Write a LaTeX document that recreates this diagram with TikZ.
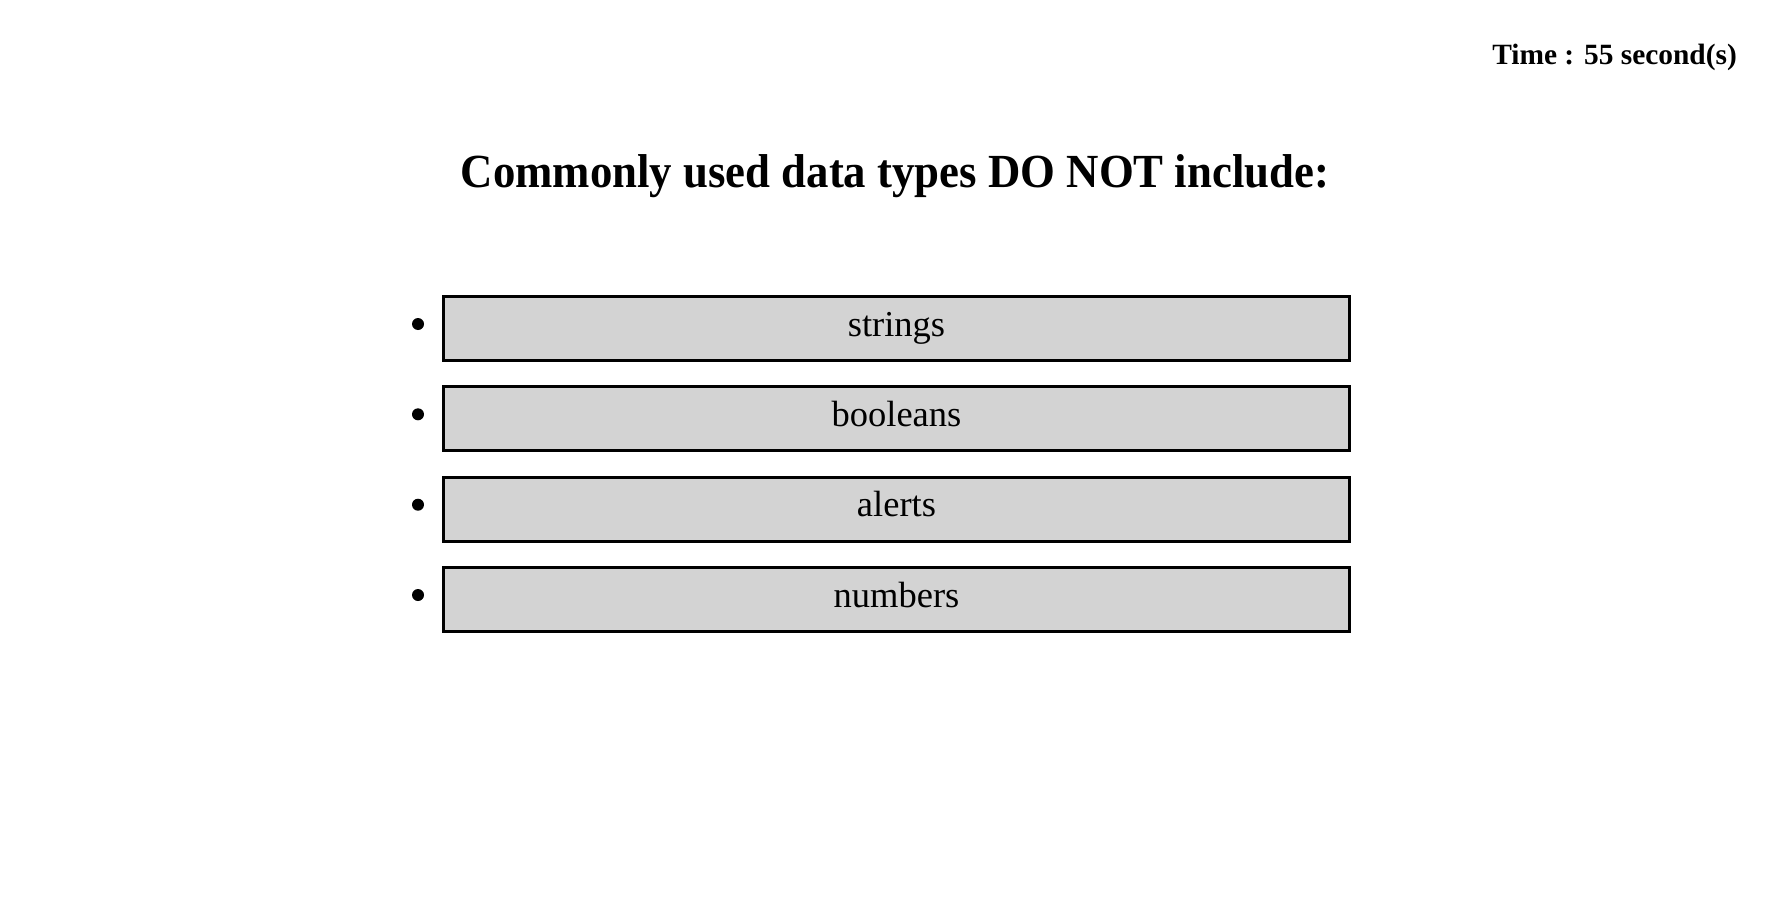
\documentclass[tikz,border=0pt]{standalone}
\usepackage{fontspec}
\setmainfont{Liberation Serif}
\newfontfamily\titlefont{Liberation Serif}[FakeStretch=0.943]
\definecolor{boxgray}{HTML}{D3D3D3}
\begin{document}
\begin{tikzpicture}[x=1pt,y=-1pt,
  optbox/.style={draw=black, fill=boxgray, line width=3pt, rectangle,
    minimum width=906pt, minimum height=64pt, inner sep=0pt,
    text height=24pt, text depth=9pt, font=\fontsize{36.5}{44}\selectfont},
  bulletdot/.style={circle, fill=black, inner sep=0pt, minimum size=12pt},
  titletext/.style={font=\titlefont\fontsize{47.5}{56}\selectfont\bfseries, inner sep=0pt, anchor=base},
  timetext/.style={font=\fontsize{29.4}{36}\selectfont\bfseries, inner sep=0pt, anchor=base east}]
\useasboundingbox[fill=white] (0,0) rectangle (1772,899);
\node[timetext] (time) at (1737,64) {Time : 55 second(s)};
\node[titletext] (title) at (895,187) {Commonly used data types DO NOT include:};
\node[optbox] (o1) at (896.5,328.5) {strings};
\node[optbox] (o2) at (896.5,418.8) {booleans};
\node[optbox] (o3) at (896.5,509.2) {alerts};
\node[optbox] (o4) at (896.5,599.5) {numbers};
\node[bulletdot] (b1) at (418,324) {};
\node[bulletdot] (b2) at (418,414.3) {};
\node[bulletdot] (b3) at (418,504.7) {};
\node[bulletdot] (b4) at (418,595) {};
\end{tikzpicture}
\end{document}
